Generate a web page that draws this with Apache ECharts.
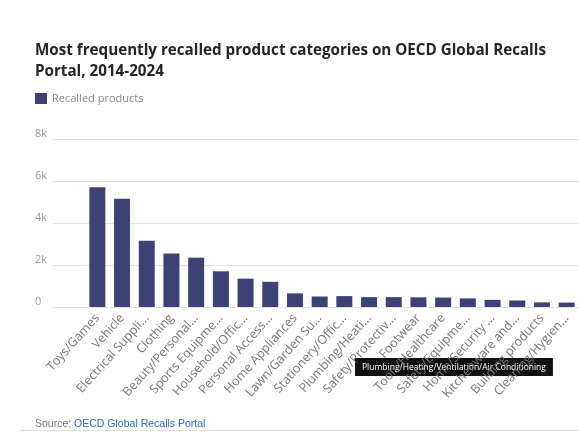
<!DOCTYPE html>
<html>
<head>
<meta charset="utf-8">
<script src="https://cdn.jsdelivr.net/npm/echarts@6/dist/echarts.min.js"></script>
<style>
  html, body { margin: 0; padding: 0; background: #ffffff; }
  #chart { width: 579px; height: 432px; }
</style>
</head>
<body>
<div id="chart"></div>
<script>
var categories = [
    'Toys/Games', 'Vehicle', 'Electrical Supplies/Equipment', 'Clothing',
    'Beauty/Personal Care', 'Sports Equipment/Leisure', 'Household/Office Furniture',
    'Personal Accessories', 'Home Appliances', 'Lawn/Garden Supplies',
    'Stationery/Office Supplies', 'Plumbing/Heating/Ventilation/Air Conditioning',
    'Safety/Protective Equipment', 'Footwear', 'Tools/Healthcare',
    'Safety/Equipment Other', 'Home/Security Devices', 'Kitchenware and Tableware',
    'Building products', 'Cleaning/Hygiene Products'
];
var recalled = [5700, 5150, 3150, 2550, 2350, 1700, 1350, 1200, 650, 500,
                520, 470, 470, 460, 450, 410, 340, 310, 220, 210];
var yTicks = [0, 2000, 4000, 6000, 8000];
var hoveredIndex = 11;

var chart = echarts.init(document.getElementById('chart'));
var font = '"Open Sans", "Noto Sans", sans-serif';

var option = {
    backgroundColor: '#ffffff',
    textStyle: { fontFamily: font },
    title: {
        text: 'Most frequently recalled product categories on OECD Global Recalls\nPortal, 2014-2024',
        left: 35,
        top: 40,
        padding: 0,
        textStyle: { fontSize: 15.2, fontWeight: 'bold', color: '#252525', lineHeight: 21, fontFamily: font }
    },
    legend: {
        left: 30,
        top: 88,
        itemWidth: 12,
        itemHeight: 11,
        itemGap: 5,
        icon: 'rect',
        textStyle: { fontSize: 11, color: '#888', fontFamily: font },
        data: ['Recalled products']
    },
    grid: [
        { left: 85, right: -2, top: 139, bottom: 125 },
        { left: 53, right: 0, top: 139, bottom: 125 }
    ],
    xAxis: [
        {
            type: 'category',
            gridIndex: 0,
            data: categories,
            axisLine: { show: false },
            axisTick: { show: false },
            axisLabel: {
                rotate: 48,
                interval: 0,
                margin: 9,
                fontSize: 12.5,
                color: '#777',
                width: 109,
                overflow: 'truncate',
                ellipsis: '...'
            }
        },
        { type: 'value', gridIndex: 1, show: false, min: 0, max: 1 }
    ],
    yAxis: [
        {
            type: 'value', gridIndex: 0, min: 0, max: 8000, interval: 2000,
            axisLabel: { show: false }, splitLine: { show: false },
            axisLine: { show: false }, axisTick: { show: false }
        },
        {
            type: 'value', gridIndex: 1, min: yTicks[0], max: yTicks[yTicks.length - 1], interval: 2000,
            axisLine: { show: false }, axisTick: { show: false },
            splitLine: { lineStyle: { color: '#e4e4e4', width: 1 } },
            axisLabel: {
                align: 'left',
                verticalAlign: 'bottom',
                margin: 18,
                fontSize: 11,
                color: '#999',
                formatter: function (v) { return v === 0 ? '0' : (v / 1000) + 'k'; }
            }
        }
    ],
    series: [{
        name: 'Recalled products',
        type: 'bar',
        xAxisIndex: 0,
        yAxisIndex: 0,
        barWidth: 16,
        itemStyle: { color: '#3c4274' },
        data: recalled
    }],
    graphic: [
        {
            type: 'text',
            left: 35,
            top: 419,
            style: {
                text: '{s|Source: }{l|OECD Global Recalls Portal}',
                fontFamily: font,
                rich: {
                    s: { fontSize: 10.5, fill: '#777' },
                    l: { fontSize: 10.5, fill: '#2b6cc4', textDecoration: 'underline' }
                }
            }
        },
        {
            type: 'rect',
            left: 20,
            top: 430,
            shape: { width: 559, height: 1 },
            style: { fill: '#e0e0e0' }
        },
        {
            type: 'text',
            left: 355,
            top: 358,
            style: {
                text: categories[hoveredIndex],
                fontFamily: font,
                fontSize: 8.5,
                fill: '#fff',
                backgroundColor: '#111',
                padding: [5, 7, 4, 7]
            }
        }
    ]
};

chart.setOption(option);
</script>
</body>
</html>
